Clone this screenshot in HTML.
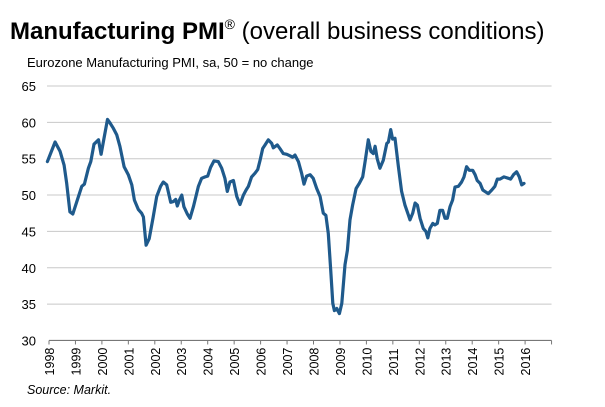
<!DOCTYPE html>
<html><head><meta charset="utf-8"><style>
body{margin:0;background:#fff;font-family:"Liberation Sans",Arial,sans-serif;}
#wrap{position:relative;width:605px;height:407px;overflow:hidden;}
</style></head><body>
<div id="wrap">
<svg id="chart" width="605" height="407">
<text x="10" y="39" font-size="24" font-family="Liberation Sans, Arial, sans-serif"><tspan font-weight="bold">Manufacturing PMI</tspan><tspan font-size="14" dy="-10">®</tspan><tspan dy="10"> (overall business conditions)</tspan></text>
<text x="27" y="67" font-size="13">Eurozone Manufacturing PMI, sa, 50 = no change</text>
<text x="27" y="394" font-size="12.5" font-style="italic">Source: Markit.</text>
</svg>
</div>
<script>
const yTicks=[30,35,40,45,50,55,60,65];
const xTickYears=[1998,1999,2000,2001,2002,2003,2004,2005,2006,2007,2008,2009,2010,2011,2012,2013,2014,2015,2016];
const dates=[1997.94,1998.23,1998.42,1998.57,1998.67,1998.79,1998.90,1999.05,1999.24,1999.34,1999.49,1999.58,1999.70,1999.87,1999.97,2000.08,2000.21,2000.31,2000.43,2000.56,2000.68,2000.84,2001.00,2001.13,2001.23,2001.38,2001.50,2001.57,2001.67,2001.79,2001.94,2002.07,2002.22,2002.32,2002.45,2002.60,2002.70,2002.79,2002.85,2002.93,2003.02,2003.10,2003.23,2003.33,2003.46,2003.65,2003.77,2003.90,2004.00,2004.11,2004.24,2004.40,2004.53,2004.65,2004.74,2004.84,2004.97,2005.10,2005.22,2005.35,2005.45,2005.54,2005.66,2005.79,2005.89,2005.98,2006.08,2006.17,2006.29,2006.42,2006.48,2006.63,2006.73,2006.86,2006.99,2007.11,2007.21,2007.30,2007.43,2007.55,2007.64,2007.74,2007.87,2007.99,2008.12,2008.25,
2008.37,2008.47,2008.56,2008.65,2008.73,2008.79,2008.88,2008.98,2009.07,2009.19,2009.28,2009.38,2009.48,2009.61,2009.73,2009.86,2009.96,2010.07,2010.17,2010.26,2010.33,2010.41,2010.51,2010.64,2010.77,2010.83,2010.92,2010.99,2011.08,2011.21,2011.33,2011.46,2011.59,2011.65,2011.75,2011.84,2011.93,2012.03,2012.15,2012.25,2012.32,2012.40,2012.51,2012.59,2012.68,2012.78,2012.88,2012.97,2013.06,2013.16,2013.26,2013.35,2013.48,2013.60,2013.69,2013.79,2013.89,2014.02,2014.11,2014.19,2014.30,2014.40,2014.48,2014.61,2014.74,2014.86,2014.95,2015.05,2015.20,2015.37,2015.45,2015.56,2015.68,2015.78,2015.87,2015.96];
const pmiValues=[54.6,57.3,56.0,54.1,51.6,47.7,47.4,49.1,51.2,51.5,53.7,54.6,57.0,57.6,55.6,57.8,60.4,59.9,59.2,58.3,56.7,53.9,52.8,51.4,49.3,48.0,47.5,47.0,43.1,44.0,47.0,49.8,51.2,51.8,51.4,49.0,49.1,49.4,48.5,49.3,50.0,48.4,47.4,46.8,48.4,51.2,52.3,52.5,52.6,53.8,54.7,54.6,53.7,52.3,50.5,51.8,52.0,49.8,48.7,50.0,50.7,51.2,52.5,53.0,53.5,54.8,56.4,56.9,57.6,57.1,56.5,56.9,56.4,55.7,55.6,55.4,55.2,55.5,54.6,53.0,51.5,52.6,52.8,52.3,50.9,49.8,
47.5,47.2,44.7,39.7,35.1,34.1,34.4,33.7,35.1,40.4,42.4,46.6,48.6,50.9,51.6,52.5,54.8,57.6,56.0,55.7,56.7,55.0,53.7,54.8,57.1,57.3,59.0,57.7,57.8,53.9,50.5,48.6,47.2,46.6,47.5,48.9,48.6,46.8,45.4,45.0,44.1,45.4,46.1,45.9,46.1,47.9,47.9,46.8,46.8,48.4,49.3,51.1,51.2,51.8,52.5,53.9,53.4,53.4,52.8,52.0,51.6,50.7,50.5,50.2,50.7,51.2,52.2,52.2,52.5,52.3,52.2,52.8,53.2,52.5,51.4,51.6];
const svg=document.getElementById('chart');
const NS='http://www.w3.org/2000/svg';
const X0=49,PX_YEAR=26.45,Y65=86,PX_UNIT=7.27;
function xs(yr){return X0+(yr-1998)*PX_YEAR;}
function ys(v){return Y65+(65-v)*PX_UNIT;}
function mk(tag,attrs){const e=document.createElementNS(NS,tag);for(const k in attrs)e.setAttribute(k,attrs[k]);svg.appendChild(e);return e;}
const xEnd=xs(2017);
yTicks.forEach(v=>{
  if(v>30){const g=mk('line',{x1:X0-2,x2:xEnd,y1:ys(v),y2:ys(v),stroke:'#c8c8c8','stroke-width':1});
  
  }
  const t=mk('text',{x:36,y:ys(v)+5,'text-anchor':'end','font-size':13,fill:'#000'});
  t.textContent=v;
  
  
});
const ax=mk('line',{x1:X0,x2:xEnd,y1:ys(30),y2:ys(30),stroke:'#777','stroke-width':1.2});


xTickYears.concat([2017]).forEach(yr=>{
  const tk=mk('line',{x1:xs(yr),x2:xs(yr),y1:ys(30),y2:ys(30)+4,stroke:'#777','stroke-width':1});
  
  
});
xTickYears.forEach(yr=>{
  const x=xs(yr)+5,y=ys(30)+35;
  const t=mk('text',{x:x,y:y,'text-anchor':'start','font-size':12.5,transform:'rotate(-90 '+x+' '+y+')'});
  t.textContent=yr;
  
  
});
const d=dates.map((yr,i)=>(i?'L':'M')+xs(yr).toFixed(1)+','+ys(pmiValues[i]).toFixed(1)).join(' ');
const p=mk('path',{d:d,fill:'none',stroke:'#1f5a8c','stroke-width':3.2,'stroke-linejoin':'round','stroke-linecap':'round'});


</script>
</body></html>
